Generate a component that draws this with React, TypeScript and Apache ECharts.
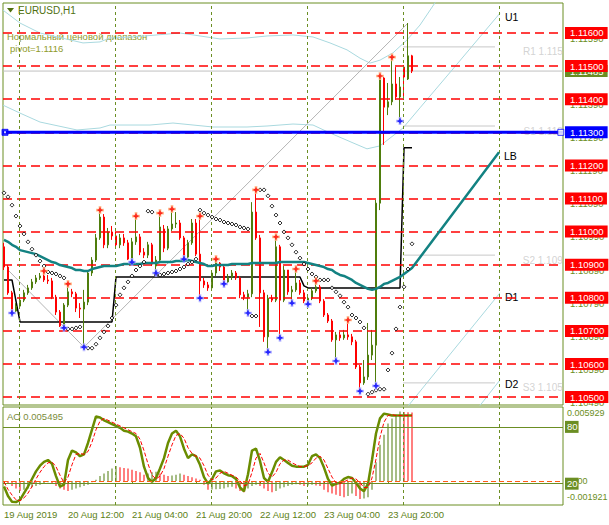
import React, { useEffect, useRef } from "react";
import * as echarts from "echarts";

// ---------- price data (EURUSD H1) ----------
const opens = [
  1.10954, 1.10893, 1.10815, 1.1076, 1.10775, 1.10793, 1.10815, 1.1083, 1.10848, 1.1086,
  1.10866, 1.10854, 1.10851, 1.10802, 1.10757, 1.10715, 1.10778, 1.10818, 1.10812, 1.10769,
  1.10766, 1.10787, 1.10875, 1.10914, 1.10981, 1.11044, 1.1096, 1.10999, 1.10987, 1.1096,
  1.10981, 1.10966, 1.10917, 1.10969, 1.10984, 1.10938, 1.10929, 1.1096, 1.10896, 1.10914,
  1.11008, 1.1095, 1.11008, 1.11023, 1.11026, 1.10981, 1.10923, 1.10966, 1.11026, 1.10932,
  1.10851, 1.10839, 1.1083, 1.10875, 1.10905, 1.10893, 1.10848, 1.10863, 1.10875, 1.1086,
  1.10809, 1.10802, 1.10812, 1.11059, 1.10981, 1.10815, 1.10682, 1.10799, 1.10793, 1.10954,
  1.10793, 1.10884, 1.10818, 1.10824, 1.10845, 1.10815, 1.1079, 1.10799, 1.10821, 1.10833,
  1.1079, 1.10748, 1.1073, 1.10673, 1.10688, 1.10679, 1.10688, 1.10682, 1.10667, 1.10591,
  1.10543, 1.10561, 1.10627, 1.10657, 1.11086, 1.11464, 1.11376, 1.11392, 1.11446, 1.11407,
  1.11497, 1.11461, 1.11531,
];
const closes = [
  1.10893, 1.10815, 1.1076, 1.10775, 1.10793, 1.10815, 1.1083, 1.10848, 1.1086, 1.10866,
  1.10854, 1.10851, 1.10802, 1.10757, 1.10715, 1.10778, 1.10818, 1.10812, 1.10769, 1.10766,
  1.10787, 1.10875, 1.10914, 1.10981, 1.11044, 1.1096, 1.10999, 1.10987, 1.1096, 1.10981,
  1.10966, 1.10917, 1.10969, 1.10984, 1.10938, 1.10929, 1.1096, 1.10902, 1.10914, 1.11014,
  1.1095, 1.11008, 1.11023, 1.11026, 1.10981, 1.10923, 1.10966, 1.11026, 1.10932, 1.10851,
  1.10839, 1.1083, 1.10875, 1.10905, 1.10893, 1.10848, 1.10863, 1.10875, 1.1086, 1.10809,
  1.10802, 1.10812, 1.11059, 1.10981, 1.10815, 1.10682, 1.10799, 1.10793, 1.10954, 1.10793,
  1.10884, 1.10818, 1.10824, 1.10845, 1.10815, 1.1079, 1.10799, 1.10821, 1.10833, 1.1079,
  1.10748, 1.1073, 1.10673, 1.10688, 1.10679, 1.10688, 1.10682, 1.10667, 1.10591, 1.10543,
  1.10561, 1.10627, 1.10657, 1.11086, 1.11464, 1.11376, 1.11392, 1.11446, 1.11407, 1.11437,
  1.11467, 1.11531, 1.11485,
];
const highs = [
  1.10966, 1.10899, 1.10821, 1.10784, 1.10802, 1.10824, 1.10839, 1.10857, 1.10869, 1.10875,
  1.10881, 1.10869, 1.1086, 1.10809, 1.10763, 1.10784, 1.10842, 1.10827, 1.10818, 1.10784,
  1.10824, 1.10884, 1.10923, 1.10993, 1.11065, 1.11053, 1.11011, 1.11017, 1.10999, 1.10993,
  1.10993, 1.10975, 1.10981, 1.11047, 1.10993, 1.1095, 1.10969, 1.10966, 1.10926, 1.11056,
  1.1102, 1.11017, 1.11068, 1.11059, 1.11035, 1.10987, 1.10975, 1.11038, 1.11038, 1.11047,
  1.1086, 1.10848, 1.10884, 1.10917, 1.10908, 1.10899, 1.10872, 1.10884, 1.10881, 1.10866,
  1.10818, 1.10824, 1.11089, 1.11126, 1.1099, 1.10824, 1.10809, 1.10809, 1.10984, 1.1096,
  1.10896, 1.10881, 1.10836, 1.10887, 1.10854, 1.10824, 1.10809, 1.1083, 1.10851, 1.10839,
  1.10796, 1.10754, 1.10736, 1.10697, 1.10697, 1.10703, 1.10733, 1.10691, 1.10673, 1.10597,
  1.10612, 1.10724, 1.10703, 1.11096, 1.1147, 1.11467, 1.11449, 1.11527, 1.11497, 1.11467,
  1.11503, 1.1163, 1.11534,
];
const lows = [
  1.10884, 1.10809, 1.10754, 1.10757, 1.10769, 1.10787, 1.10809, 1.10824, 1.10842, 1.10854,
  1.10848, 1.10842, 1.10796, 1.10748, 1.10712, 1.10709, 1.10772, 1.10802, 1.10757, 1.10739,
  1.10651, 1.10778, 1.10866, 1.10908, 1.10975, 1.1095, 1.1095, 1.10975, 1.1095, 1.1095,
  1.10957, 1.10914, 1.10908, 1.1096, 1.10929, 1.1092, 1.1092, 1.10896, 1.10875, 1.10908,
  1.10938, 1.10944, 1.11002, 1.11011, 1.10975, 1.10917, 1.1092, 1.1096, 1.10926, 1.10799,
  1.1083, 1.10821, 1.10824, 1.10866, 1.10881, 1.10842, 1.10845, 1.10854, 1.10854, 1.10799,
  1.10793, 1.10754, 1.10802, 1.10975, 1.10712, 1.10667, 1.10636, 1.10787, 1.10787, 1.10679,
  1.10787, 1.10809, 1.10784, 1.10818, 1.10809, 1.10784, 1.10781, 1.10793, 1.10815, 1.10784,
  1.10742, 1.10724, 1.10667, 1.10609, 1.1067, 1.10673, 1.10673, 1.10657, 1.10585, 1.10518,
  1.10537, 1.10552, 1.10612, 1.10534, 1.11065, 1.11262, 1.11352, 1.11382, 1.11398, 1.11334,
  1.11398, 1.11458, 1.11479,
];

// Parabolic SAR
const sar = [
  1.11117, 1.11105, 1.1108, 1.11047, 1.11017, 1.10993, 1.10969, 1.10947, 1.10929, 1.10911,
  1.10896, 1.10878, 1.10875, 1.10872, 1.10866, 1.1086, 1.10706, 1.10706, 1.10709, 1.10712,
  null, 1.10648, 1.10648, 1.1066, 1.10679, 1.10697, 1.10715, 1.10739, 1.10778, 1.10809,
  1.1083, 1.10848, 1.10866, 1.10884, 1.10896, 1.10908, 1.11062, 1.11059, 1.10869, 1.10869,
  1.10872, 1.10875, 1.10878, 1.10881, 1.10887, 1.10893, 1.10902, 1.10908, 1.10917, 1.11065,
  1.11056, 1.1105, 1.11044, 1.11038, 1.11035, 1.11029, 1.11026, 1.11023, 1.1102, 1.11014,
  1.11011, 1.11008, 1.10745, 1.10745, 1.11126, 1.11126, 1.11108, 1.11077, 1.1105, 1.11026,
  1.10999, 1.10981, 1.1096, 1.10938, 1.1092, 1.10902, 1.10887, 1.10872, 1.10863, 1.10854,
  1.10854, 1.10854, 1.1083, 1.10818, 1.10806, 1.10787, 1.10772, 1.10748, 1.10739, 1.10727,
  1.10709, 1.10509, 1.10515, 1.10521, 1.10524, 1.10524, 1.10582, 1.10633, 1.10706, 1.10772,
  1.10833, 1.10887, 1.10963,
];

// teal moving average
const maLine = [
  1.10975, 1.10969, 1.1096, 1.10954, 1.10944, 1.10941, 1.10938, 1.10935, 1.10932, 1.10926,
  1.1092, 1.10914, 1.10908, 1.10905, 1.10899, 1.10896, 1.10893, 1.1089, 1.10884, 1.10884,
  1.10881, 1.10881, 1.10887, 1.1089, 1.10893, 1.10896, 1.10896, 1.10896, 1.10896, 1.10899,
  1.10902, 1.10902, 1.10902, 1.10902, 1.10902, 1.10905, 1.10905, 1.10905, 1.10905, 1.10908,
  1.10908, 1.10908, 1.10908, 1.10911, 1.10911, 1.10911, 1.10914, 1.10911, 1.10908, 1.10905,
  1.10902, 1.10896, 1.10896, 1.10899, 1.10899, 1.10899, 1.10899, 1.10902, 1.10902, 1.10902,
  1.10902, 1.10902, 1.10905, 1.10905, 1.10905, 1.10905, 1.10905, 1.10905, 1.10905, 1.10908,
  1.10908, 1.10908, 1.10908, 1.10908, 1.10908, 1.10908, 1.10905, 1.10902, 1.10899, 1.10896,
  1.10893, 1.10887, 1.10884, 1.10875, 1.10869, 1.10866, 1.1086, 1.10854, 1.10845, 1.10839,
  1.10833, 1.10827, 1.10824, 1.10827, 1.10833, 1.10842, 1.10845, 1.10851, 1.10857, 1.10863,
  1.10872, 1.10881, 1.1089,
];
const lbIndex = 123.75;
const lbPrice = 1.1124;

// black channel step line
const blackLine = [
  1.10854, 1.10854, 1.10854, 1.1079, 1.10727, 1.10727, 1.10727, 1.10727, 1.10727, 1.10727,
  1.10727, 1.10727, 1.10727, 1.10727, 1.10727, 1.10727, 1.10727, 1.10727, 1.10727, 1.10727,
  1.10727, 1.10727, 1.10727, 1.10727, 1.10727, 1.10727, 1.10727, 1.10727, 1.10863, 1.10863,
  1.10863, 1.10863, 1.10863, 1.10863, 1.10863, 1.10863, 1.10863, 1.10863, 1.10863, 1.10863,
  1.10863, 1.10863, 1.10863, 1.10863, 1.10863, 1.10863, 1.10863, 1.10863, 1.10863, 1.10863,
  1.10863, 1.10863, 1.10863, 1.10863, 1.10863, 1.10863, 1.10863, 1.10863, 1.10863, 1.10863,
  1.10863, 1.10863, 1.10863, 1.10863, 1.10863, 1.10863, 1.10863, 1.10863, 1.10863, 1.10863,
  1.10863, 1.10863, 1.10863, 1.10863, 1.10863, 1.10836, 1.1083, 1.1083, 1.1083, 1.1083,
  1.1083, 1.1083, 1.1083, 1.1083, 1.1083, 1.1083, 1.1083, 1.1083, 1.1083, 1.1083,
  1.1083, 1.1083, 1.1083, 1.1083, 1.1083, 1.1083, 1.1083, 1.1083, 1.1083, 1.1083,
  1.11253, 1.11253, 1.11253,
];

// fractals (bar indices)
const fractalUpIdx = [10, 16, 24, 33, 39, 42, 49, 53, 63, 68, 73, 78, 86, 94, 97];
const fractalDownIdx = [2, 15, 20, 32, 38, 45, 49, 55, 61, 66, 69, 72, 76, 83, 89, 93, 99];

// zigzag
const zigzagIdx = [1, 20, 101];
const zigzagPrice = [1.10884, 1.10651, 1.1163];

// "normal price range" bands (shifted forward)
const upperBandIdx = [-0.25, 4, 9, 19.75, 24, 26.5, 32.25, 44, 49, 54, 60.75, 65.75, 72.25, 77.25, 81.5, 85.75, 89, 91.5, 94, 97.25, 100.75, 104, 108.25];
const upperBandVal = [1.11669, 1.1163, 1.116, 1.1157, 1.11573, 1.11585, 1.11588, 1.116, 1.11591, 1.11582, 1.11585, 1.11591, 1.11594, 1.11588, 1.1157, 1.11549, 1.11524, 1.11509, 1.11518, 1.1154, 1.11579, 1.11624, 1.117];
const lowerBandIdx = [-0.25, 4, 9, 18.25, 24, 26.5, 36.5, 42.25, 52.25, 60.75, 65.75, 72.25, 77.25, 81.5, 87.25, 90.75, 94, 99.75, 104, 112, 124];
const lowerBandVal = [1.11382, 1.11358, 1.11331, 1.11307, 1.11313, 1.11322, 1.11322, 1.11328, 1.11316, 1.11316, 1.11319, 1.11325, 1.11322, 1.11298, 1.11268, 1.1125, 1.11259, 1.11313, 1.11374, 1.11488, 1.1166];
const d1Idx = [100, 124];
const d1Val = [1.10458, 1.10815];
const d2Idx = [118.5, 124];
const d2Val = [1.10467, 1.10552];

// pivot levels
const pivotValue = 1.1116;
const pivotLevels = [1.11558, 1.11319, 1.10929, 1.10543];
const pivotLabels = ["R1 1.115", "S1 1.113", "S2 1.109", "S3 1.105"];
const pivotStartIdx = 99.8;
const pivotEndIdx = 122.75;

// price axis
const priceLevels = [1.116, 1.115, 1.114, 1.113, 1.112, 1.111, 1.11, 1.109, 1.108, 1.107, 1.106, 1.105];
const scaleLabels = [1.1159, 1.1139, 1.1129, 1.1119, 1.1109, 1.1099, 1.1089, 1.1079, 1.1069, 1.1059, 1.1049];
const blueLevel = 1.113;
const bidPrice = 1.11485;

// time axis
const xLabelIdx = [0, 16, 32, 48, 64, 80, 96];
const xLabels = ["19 Aug 2019", "20 Aug 12:00", "21 Aug 04:00", "21 Aug 20:00", "22 Aug 12:00", "23 Aug 04:00", "23 Aug 20:00"];
const gridLineIdx = [3.85, 27.85, 51.85, 75.85, 99.85, 123.85];

// indicator window
const aoValues = [
  -0.0001, -0.0002, -0.0004, -0.0006, -0.0008, -0.0007, -0.0006, -0.0005, -0.0004, -0.0003,
  -0.0002, -0.0001, -0.0002, -0.0004, -0.0006, -0.0007, -0.0008, -0.0007, -0.0006, -0.0005,
  -0.0004, -0.0003, -0.0001, 0.0001, 0.0004, 0.0006, 0.0008, 0.001, 0.0012, 0.0011,
  0.00105, 0.001, 0.0009, 0.0008, 0.0007, 0.0005, 0.0006, 0.0007, 0.00075, 0.0006,
  0.0005, 0.0004, 0.00045, 0.0005, 0.0006, 0.0005, 0.0004, 0.0003, 0.0002, 0.0001,
  -0.0003, -0.0007, -0.00068, -0.00066, -0.00064, -0.0006, -0.0005, -0.00045, -0.0006, -0.0008,
  -0.0009, -0.0006, -0.0004, -0.0003, -0.0004, -0.0006, -0.0008, -0.0009, -0.0008, -0.0006,
  -0.0005, -0.0004, -0.0003, -0.00025, -0.0003, -0.0004, -0.00035, -0.0003, -0.00035, -0.0004,
  -0.0007, -0.0009, -0.001, -0.0011, -0.0012, -0.0013, -0.0012, -0.001, -0.0012, -0.00145,
  -0.0014, -0.0013, -0.0007, 0.0015, 0.0029, 0.0037, 0.0046, 0.005, 0.0053, 0.00556,
  0.00553, 0.00551, 0.005495,
];
const oscMain = [
  17, 7, 1, 0.6, 3, 10, 17, 25, 33, 39, 43, 45, 41, 28, 17, 19, 45, 55, 53, 49,
  51, 63, 77, 91, 90, 87, 85, 83, 81, 79, 76, 75, 73, 70, 58, 38, 26, 22, 26, 36,
  47, 63, 73, 76, 70, 57, 47, 51, 49, 40, 27, 20, 25, 33, 34, 31, 29, 28, 25, 16,
  12, 30, 55, 57, 44, 26, 22, 32, 43, 48, 45, 42, 39, 38, 38, 38, 40, 49, 51, 47,
  37, 25, 18, 20, 21, 25, 27, 26, 21, 15, 12, 20, 45, 73, 89, 94, 93, 92, 92, 92,
  92, 92, 92,
];
const oscSignal = [
  22, 14, 8, 3, 2, 5, 10, 17, 25, 32, 38, 42, 43, 38, 29, 21, 27, 40, 51, 52,
  51, 54, 64, 77, 86, 89, 87, 85, 83, 81, 79, 77, 75, 73, 67, 55, 41, 29, 25, 28,
  36, 49, 61, 71, 73, 68, 58, 52, 49, 47, 39, 29, 24, 26, 31, 33, 31, 29, 27, 23,
  18, 19, 32, 47, 52, 42, 31, 27, 32, 41, 45, 45, 42, 40, 38, 38, 39, 42, 47, 49,
  45, 36, 27, 21, 20, 22, 24, 26, 25, 21, 16, 16, 26, 46, 69, 85, 92, 93, 92, 92,
  92, 92, 92,
];
const aoScaleLabels = [0.005929, 0, -0.001921];
const oscLevels = [80, 20];

// ---------- styling ----------
const FONT = '"Liberation Sans", Arial, sans-serif';
const OLIVE = "#6b8e23";
const BULL = "#4f7d0c";
const BEAR = "#ff0000";
const LIGHTBLUE = "#a9d9df";
const X_MIN = -0.25;
const X_MAX = 139.75;
const Y_MIN = 1.104762;
const Y_MAX = 1.116906;
const OSC_MIN = -2.5;
const OSC_MAX = 101;
const PLUS = "path://M2 0H4V2H6V4H4V6H2V4H0V2H2Z";

function buildOption(): any {
  const N = opens.length;
  const candleData = opens.map((o, i) => [i, o, closes[i], lows[i], highs[i]]);
  const sarData: any[] = [];
  sar.forEach((v, i) => {
    if (v != null) sarData.push([i, v]);
  });
  const pair = (idx: number[], val: number[]) => idx.map((x, k) => [x, val[k]]);
  const dummy = (xi: number, yi: number, z: number, markLine: any) => ({
    type: "line",
    xAxisIndex: xi,
    yAxisIndex: yi,
    data: [],
    z,
    silent: true,
    markLine: { silent: true, symbol: "none", precision: 10, label: { show: false }, animation: false, ...markLine },
  });
  const thinLine = (data: any[], color: string, z: number, extra: any = {}) => ({
    type: "line",
    xAxisIndex: 0,
    yAxisIndex: 0,
    data,
    z,
    silent: true,
    showSymbol: false,
    symbol: "none",
    lineStyle: { color, width: 1 },
    ...extra,
  });
  const endLbl = (text: string) => ({
    show: true,
    formatter: text,
    color: "#000",
    fontFamily: FONT,
    fontSize: 10.5,
    distance: 5,
    offset: [0, 4],
  });

  const series: any[] = [
    // red dashed round-number levels
    dummy(0, 0, 1, {
      lineStyle: { color: "#ff0000", type: [9, 5], width: 1.5 },
      data: priceLevels.map((v) => ({ yAxis: v })),
    }),
    // vertical dashed grid lines
    dummy(0, 0, 1, {
      lineStyle: { color: OLIVE, type: [3, 3], width: 1 },
      data: gridLineIdx.map((v) => ({ xAxis: v })),
    }),
    dummy(1, 2, 1, {
      lineStyle: { color: OLIVE, type: [3, 3], width: 1 },
      data: gridLineIdx.map((v) => ({ xAxis: v })),
    }),
    // bid line (full width)
    thinLine([[X_MIN, bidPrice], [X_MAX, bidPrice]], "#c0c0c0", 1),
    // bands
    thinLine(pair(upperBandIdx, upperBandVal), LIGHTBLUE, 2),
    thinLine(pair(lowerBandIdx, lowerBandVal), LIGHTBLUE, 2, { endLabel: endLbl("U1") }),
    thinLine(pair(d1Idx, d1Val), LIGHTBLUE, 2, { endLabel: endLbl("D1") }),
    thinLine(pair(d2Idx, d2Val), LIGHTBLUE, 2, { endLabel: endLbl("D2") }),
  ];
  // pivot lines
  pivotLevels.forEach((v) => {
    series.push(thinLine([[pivotStartIdx, v], [pivotEndIdx, v]], "#c8c8c8", 2));
  });
  series.push({
    type: "scatter",
    xAxisIndex: 0,
    yAxisIndex: 0,
    silent: true,
    z: 2,
    symbolSize: 0,
    data: pivotLevels.map((v) => [X_MAX - 0.05, v]),
    label: {
      show: true,
      position: "left",
      distance: 0,
      offset: [0, 5],
      color: "#c8c8c8",
      fontFamily: FONT,
      fontSize: 10,
      formatter: (p: any) => pivotLabels[p.dataIndex],
    },
  });
  // zigzag
  series.push(thinLine(pair(zigzagIdx, zigzagPrice), "#b4b4b4", 3));
  // black step line
  series.push(thinLine(blackLine.map((v, i) => [i, v]), "#000000", 3, { lineStyle: { color: "#000", width: 1.5 } }));
  // candles
  series.push({
    type: "candlestick",
    xAxisIndex: 0,
    yAxisIndex: 0,
    z: 4,
    silent: true,
    barWidth: 2,
    data: candleData,
    itemStyle: { color: BULL, color0: BEAR, borderColor: BULL, borderColor0: BEAR, borderWidth: 1 },
  });
  // teal MA with projection to LB
  series.push(
    thinLine([...maLine.map((v, i) => [i, v]), [lbIndex, lbPrice]], "#138282", 5, {
      lineStyle: { color: "#138282", width: 2.5 },
      endLabel: endLbl("LB"),
    })
  );
  // blue horizontal line (full width)
  series.push(
    thinLine([[X_MIN, blueLevel], [X_MAX, blueLevel]], "#0000ff", 6, {
      lineStyle: { color: "#0000ff", width: 3 },
    })
  );
  series.push({
    type: "scatter",
    xAxisIndex: 0,
    yAxisIndex: 0,
    silent: true,
    z: 7,
    symbol: "rect",
    symbolSize: 6,
    data: [
      { value: [X_MIN + 0.5, blueLevel], itemStyle: { color: "#0000ff", borderColor: "#0000ff", borderWidth: 1 } },
      { value: [X_MAX - 0.55, blueLevel], itemStyle: { color: "#ffffff", borderColor: "#0000ff", borderWidth: 1 } },
    ],
  });
  series.push({
    type: "scatter",
    xAxisIndex: 0,
    yAxisIndex: 0,
    silent: true,
    z: 8,
    symbol: "rect",
    symbolSize: 2,
    data: [[X_MIN + 0.5, blueLevel]],
    itemStyle: { color: "#ffffff" },
  });
  // SAR
  series.push({
    type: "scatter",
    xAxisIndex: 0,
    yAxisIndex: 0,
    silent: true,
    z: 7,
    symbol: "diamond",
    symbolSize: 4,
    data: sarData,
    itemStyle: { color: "#ffffff", borderColor: "#000000", borderWidth: 1 },
  });
  // fractals
  const upData = fractalUpIdx.map((i) => [i, highs[i]]);
  const dnData = fractalDownIdx.map((i) => [i, lows[i]]);
  const frac = (data: any[], color: string, size: number, z: number) => ({
    type: "scatter",
    xAxisIndex: 0,
    yAxisIndex: 0,
    silent: true,
    z,
    symbol: PLUS,
    symbolSize: size,
    data,
    itemStyle: { color },
  });
  series.push(frac(upData, "#ffb27a", 8, 8));
  series.push(frac(upData, "#ff0000", 5, 9));
  series.push(frac(dnData, "#a7a7ff", 8, 8));
  series.push(frac(dnData, "#0000ff", 5, 9));

  // ---- indicator window ----
  series.push({
    type: "bar",
    xAxisIndex: 1,
    yAxisIndex: 2,
    silent: true,
    z: 2,
    barWidth: 1,
    data: aoValues.map((v, i) => ({
      value: [i, v],
      itemStyle: { color: i > 0 && v > aoValues[i - 1] ? BULL : BEAR },
    })),
  });
  series.push(
    dummy(1, 2, 3, {
      lineStyle: { color: "#ff5a14", type: [5, 3], width: 1 },
      data: [{ yAxis: 0 }],
    })
  );
  series.push(
    dummy(1, 3, 2, {
      lineStyle: { color: OLIVE, type: "solid", width: 1 },
      data: oscLevels.map((v) => ({ yAxis: v })),
    })
  );
  series.push({
    type: "line",
    xAxisIndex: 1,
    yAxisIndex: 3,
    silent: true,
    z: 4,
    showSymbol: false,
    symbol: "none",
    data: oscMain.map((v, i) => [i, v]),
    lineStyle: { color: "#6a8c00", width: 2.5 },
  });
  series.push({
    type: "line",
    xAxisIndex: 1,
    yAxisIndex: 3,
    silent: true,
    z: 5,
    showSymbol: false,
    symbol: "none",
    data: oscSignal.map((v, i) => [i, v]),
    lineStyle: { color: "#ff0000", width: 1, type: [4, 2] },
  });

  const labelBox = (bg: string) => ({
    backgroundColor: bg,
    color: "#ffffff",
    fontFamily: FONT,
    fontSize: 9.5,
    lineHeight: 10,
    padding: [1, 4, 1, 5],
  });

  const option: any = {
    animation: false,
    backgroundColor: "#ffffff",
    textStyle: { fontFamily: FONT },
    grid: [
      { left: 3, top: 3, width: 560, height: 402, show: true, borderColor: OLIVE, borderWidth: 1, backgroundColor: "transparent", containLabel: false, outerBoundsMode: "none" },
      { left: 3, top: 407, width: 560, height: 98, show: true, borderColor: OLIVE, borderWidth: 1, backgroundColor: "transparent", containLabel: false, outerBoundsMode: "none" },
    ],
    xAxis: [
      {
        gridIndex: 0,
        type: "value",
        min: X_MIN,
        max: X_MAX,
        axisLine: { show: false },
        axisTick: { show: false },
        axisLabel: { show: false },
        splitLine: { show: false },
      },
      {
        gridIndex: 1,
        type: "value",
        min: X_MIN,
        max: X_MAX,
        axisLine: { show: false },
        axisTick: { show: true, customValues: xLabelIdx, length: 3, lineStyle: { color: OLIVE } },
        axisLabel: {
          show: true,
          customValues: xLabelIdx,
          formatter: (v: number) => {
            const k = xLabelIdx.indexOf(v);
            return k >= 0 ? xLabels[k] : "";
          },
          align: "left",
          margin: 4,
          color: "#5d7f16",
          fontFamily: FONT,
          fontSize: 9.5,
        },
        splitLine: { show: false },
      },
    ],
    yAxis: [
      {
        gridIndex: 0,
        type: "value",
        position: "right",
        min: Y_MIN,
        max: Y_MAX,
        z: 2,
        axisLine: { show: false },
        axisTick: { show: false },
        splitLine: { show: false },
        axisLabel: {
          customValues: priceLevels,
          margin: 2,
          formatter: (v: number) =>
            Math.abs(v - blueLevel) < 1e-7 ? `{b|${v.toFixed(5)}}` : `{r|${v.toFixed(5)}}`,
          rich: { r: labelBox("#ff0000"), b: labelBox("#0000ff") },
        },
      },
      {
        gridIndex: 0,
        type: "value",
        position: "right",
        min: Y_MIN,
        max: Y_MAX,
        z: 1,
        axisLine: { show: false },
        axisTick: { show: false },
        splitLine: { show: false },
        axisLabel: {
          customValues: [...scaleLabels, bidPrice],
          margin: 2,
          formatter: (v: number) =>
            Math.abs(v - bidPrice) < 1e-7 ? `{g|${v.toFixed(5)}}` : `{o|${v.toFixed(5)}}`,
          rich: {
            g: labelBox(OLIVE),
            o: { color: OLIVE, fontFamily: FONT, fontSize: 9.5, padding: [4, 4, 0, 5] },
          },
        },
      },
      {
        gridIndex: 1,
        type: "value",
        position: "right",
        min: aoScaleLabels[2],
        max: aoScaleLabels[0],
        z: 1,
        axisLine: { show: false },
        axisTick: { show: false },
        splitLine: { show: false },
        axisLabel: {
          customValues: aoScaleLabels,
          margin: 4,
          formatter: (v: number) => {
            if (v === aoScaleLabels[0]) return `{t|${v.toFixed(6)}}`;
            if (v === aoScaleLabels[2]) return `{d|${v.toFixed(6)}}`;
            return `{m|${v.toFixed(2)}}`;
          },
          rich: {
            t: { color: OLIVE, fontFamily: FONT, fontSize: 9, padding: [12, 0, 0, 0] },
            d: { color: OLIVE, fontFamily: FONT, fontSize: 9, padding: [0, 0, 16, 0] },
            m: { color: OLIVE, fontFamily: FONT, fontSize: 9, padding: [0, 0, 0, 3] },
          },
        },
      },
      {
        gridIndex: 1,
        type: "value",
        position: "right",
        min: OSC_MIN,
        max: OSC_MAX,
        z: 2,
        axisLine: { show: false },
        axisTick: { show: false },
        splitLine: { show: false },
        axisLabel: {
          customValues: oscLevels,
          margin: 2,
          formatter: (v: number) => `{b|${v}}`,
          rich: {
            b: { backgroundColor: OLIVE, color: "#ffffff", fontFamily: FONT, fontSize: 9.5, lineHeight: 10, padding: [1, 1, 1, 2] },
          },
        },
      },
    ],
    graphic: [
      { type: "polygon", shape: { points: [[7, 8], [14, 8], [10.5, 12.5]] }, style: { fill: "#4f6f0f" }, silent: true },
      { type: "text", x: 18, y: 10, style: { text: "EURUSD,H1", fill: "#4f6f0f", font: `10px ${FONT}`, verticalAlign: "middle" }, silent: true },
      { type: "text", x: 7, y: 36, style: { text: "Нормальный ценовой диапазон", fill: "#8f9b2c", font: `9.5px ${FONT}`, verticalAlign: "middle" }, silent: true },
      { type: "text", x: 10, y: 48, style: { text: `pivot=${pivotValue}`, fill: "#8f9b2c", font: `9.5px ${FONT}`, verticalAlign: "middle" }, silent: true },
      { type: "text", x: 7, y: 416, style: { text: `AO ${aoValues[N - 1]}`, fill: "#7b8c3c", font: `9.5px ${FONT}`, verticalAlign: "middle" }, silent: true },
    ],
    series,
  };
  return option;
}

export default function App() {
  const ref = useRef<HTMLDivElement>(null);
  useEffect(() => {
    if (!ref.current) return;
    const chart = echarts.init(ref.current, null, { renderer: "svg" });
    chart.setOption(buildOption());
    return () => chart.dispose();
  }, []);
  return (
    <div
      ref={ref}
      style={{ position: "fixed", left: 0, top: 0, width: 609, height: 525, background: "#ffffff" }}
    />
  );
}
